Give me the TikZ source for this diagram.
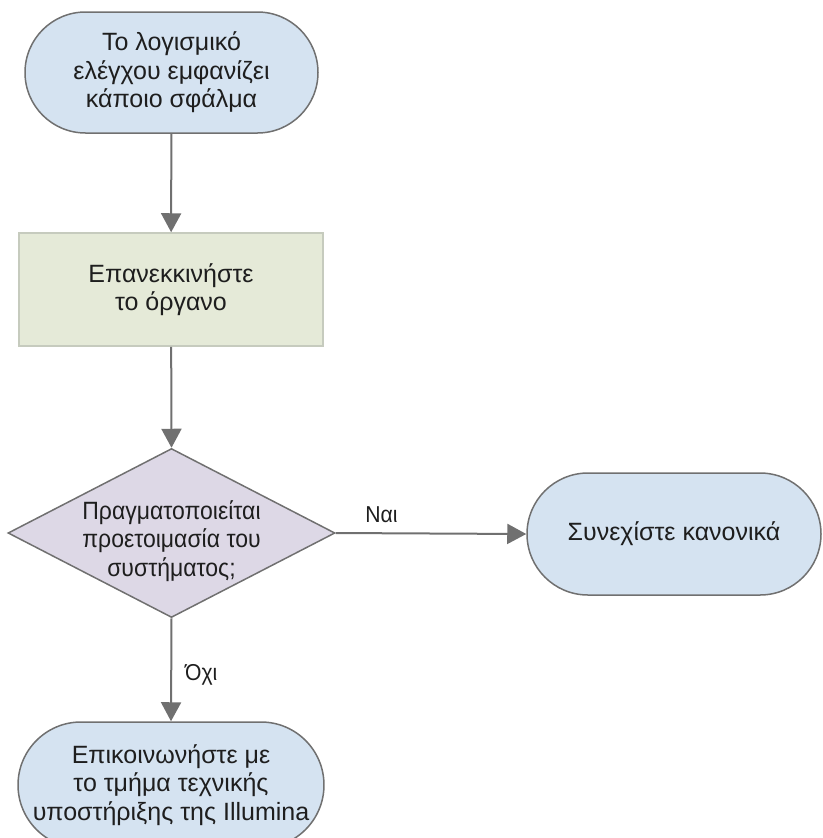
\documentclass[tikz,border=0pt]{standalone}
\usepackage{fontspec}
\setmainfont{Liberation Sans}
\newfontfamily\narrowfont[FakeStretch=0.92]{Liberation Sans}
\usetikzlibrary{shapes.misc,shapes.geometric,arrows.meta}
\definecolor{termfill}{HTML}{D5E3F1}
\definecolor{boxfill}{HTML}{E5EAD8}
\definecolor{boxline}{HTML}{C6CBBE}
\definecolor{decfill}{HTML}{DDD8E6}
\definecolor{edgecol}{HTML}{707070}
\definecolor{txtcol}{HTML}{1E1E1E}
\tikzset{
  terminal/.style={rounded rectangle, draw=edgecol, line width=1.5pt, fill=termfill,
    inner sep=0pt, align=center, text=txtcol, font=\fontsize{25}{28.5}\selectfont},
  procbox/.style={rectangle, draw=boxline, line width=1.5pt, fill=boxfill,
    inner sep=0pt, align=center, text=txtcol, font=\fontsize{25}{28.5}\selectfont},
  decision/.style={diamond, draw=edgecol, line width=1.5pt, fill=decfill, inner sep=0pt},
  dectext/.style={align=center, text=txtcol, font=\narrowfont\fontsize{25}{28.5}\selectfont},
  edgelabel/.style={text=txtcol, font=\narrowfont\fontsize{23}{26}\selectfont, inner sep=0pt},
  flow/.style={draw=edgecol, line width=2pt, -{Triangle[width=20pt,length=19pt]}}
}
\begin{document}
\begin{tikzpicture}[x=1pt,y=-1pt]
\useasboundingbox (0,0) rectangle (822,838);
\clip (0,0) rectangle (822,838);
\node[terminal, minimum width=293pt, minimum height=121pt] (start) at (171.5,72.5)
  {Το λογισμικό\\ελέγχου εμφανίζει\\κάποιο σφάλμα};
\node[procbox, minimum width=304pt, minimum height=113pt] (restart) at (171,289.5)
  {Επανεκκινήστε\\το όργανο};
\node[decision, minimum width=327pt, minimum height=169pt] (dec) at (171.5,533) {};
\node[dectext] (dectxt) at ([yshift=-8pt]dec.center) {Πραγματοποιείται\\προετοιμασία του\\συστήματος;};
\node[terminal, minimum width=294pt, minimum height=122pt] (cont) at (674,534)
  {Συνεχίστε κανονικά};
\node[terminal, minimum width=305pt, minimum height=126pt] (support) at (171,785)
  {Επικοινωνήστε με\\το τμήμα τεχνικής\\υποστήριξης της Illumina};
\draw[flow] (start) -- (restart);
\draw[flow] (restart) -- (dec.north);
\draw[flow] (dec.east) -- (cont.west) node[edgelabel, pos=0.24, above=10pt] (yes) {Ναι};
\draw[flow] (dec.south) -- (support.north) node[edgelabel, pos=0.55, right=13pt] (no) {Όχι};
\end{tikzpicture}
\end{document}
